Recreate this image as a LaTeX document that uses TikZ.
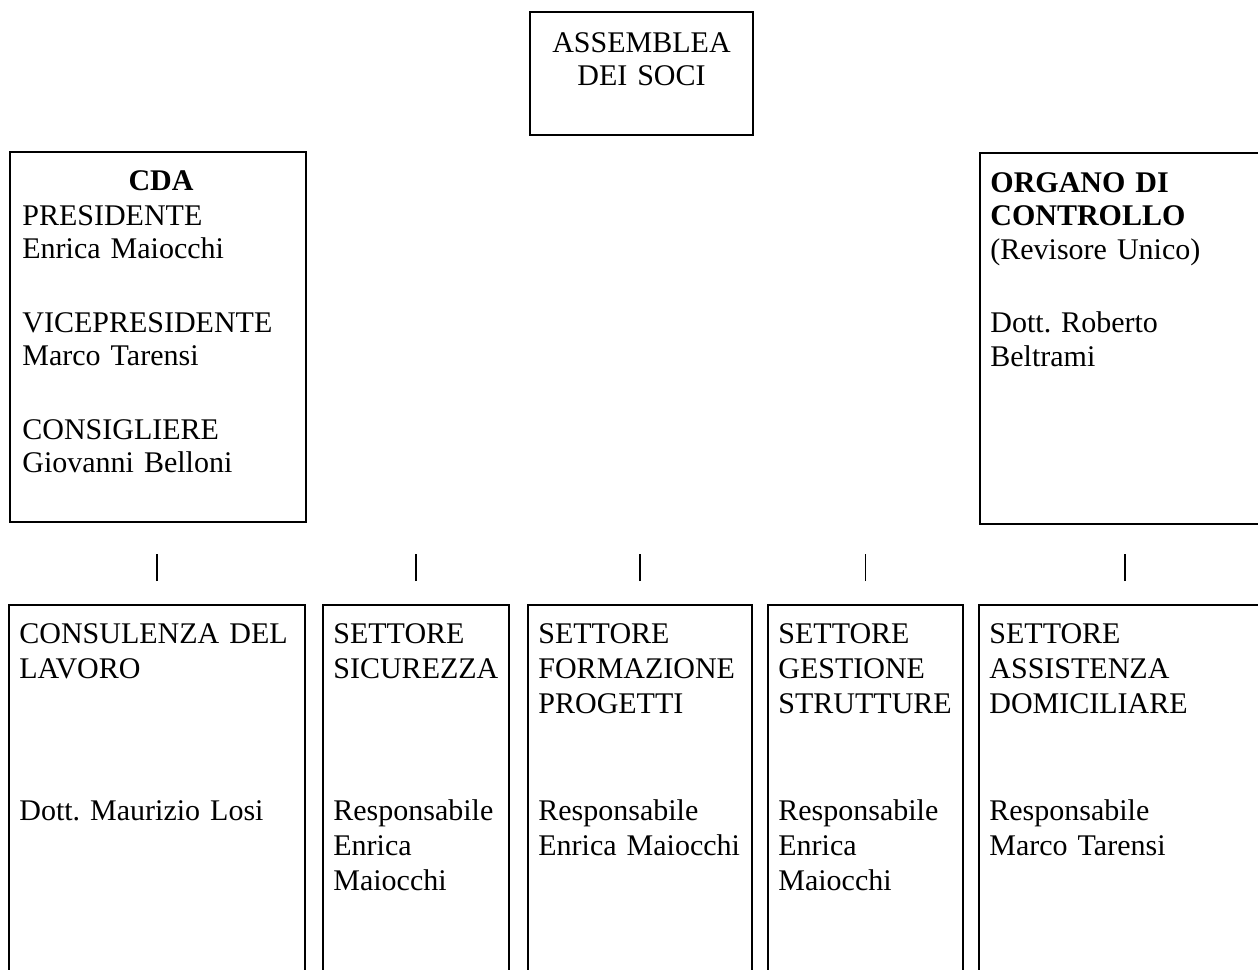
\documentclass[tikz,border=0pt]{standalone}
\usepackage{fontspec}
\setmainfont{Liberation Serif}
\frenchspacing
\tikzset{
  box/.style={draw, line width=1pt, inner sep=0pt},
  txt/.style={inner sep=0pt, anchor=base west, align=left, text width=#1},
  txt/.default=140pt,
  tick/.style={line width=0.6pt},
  every node/.style={font=\fontsize{15}{16.75}\selectfont},
}
\begin{document}
\begin{tikzpicture}[x=0.5pt, y=-0.5pt]
  \useasboundingbox (0,0) rectangle (1258,969);
  \clip (0,0) rectangle (1258,969);

  % Assemblea dei soci
  \node[box, minimum width=111.5pt, minimum height=61.5pt] (soci) at (641.5,73.5) {};
  \node[inner sep=0pt, anchor=base, align=center, text width=110pt] (socitxt) at (641.5,52) {ASSEMBLEA\\DEI SOCI};

  % CDA
  \node[box, minimum width=148pt, minimum height=185pt] (cda) at (158,337) {};
  \node[inner sep=0pt, anchor=base] (cdatit) at (161,190) {\textbf{CDA}};
  \node[txt=136pt] (cdatxt) at (22,225) {PRESIDENTE\\Enrica Maiocchi\\[20pt]VICEPRESIDENTE\\Marco Tarensi\\[20pt]CONSIGLIERE\\Giovanni Belloni};

  % Organo di controllo
  \node[box, minimum width=160pt, minimum height=185.5pt] (organo) at (1140,338.5) {};
  \node[txt=130pt] (organotxt) at (990,192) {\textbf{ORGANO DI}\\\textbf{CONTROLLO}\\(Revisore Unico)\\[20pt]Dott. Roberto\\Beltrami};

  % Settori
  \foreach \nm/\cx/\w/\head/\pers in {
      cons/157/148pt/{CONSULENZA DEL\\LAVORO}/{Dott. Maurizio Losi},
      sic/416/93pt/{SETTORE\\SICUREZZA}/{Responsabile\\Enrica\\Maiocchi},
      form/640/112pt/{SETTORE\\FORMAZIONE\\PROGETTI}/{Responsabile\\Enrica Maiocchi},
      gest/865.5/97.5pt/{SETTORE\\GESTIONE\\STRUTTURE}/{Responsabile\\Enrica\\Maiocchi},
      dom/1125/146pt/{SETTORE\\ASSISTENZA\\DOMICILIARE}/{Responsabile\\Marco Tarensi}} {
    \node[box, minimum width=\w, minimum height=200pt] (\nm) at (\cx,805) {};
    \node[txt=\w, font=\fontsize{15}{17.5}\selectfont] (\nm-hd) at ([xshift=5.5pt,yshift=-19.5pt]\nm.north west) {\head};
    \node[txt=\w, font=\fontsize{15}{17.5}\selectfont] (\nm-ps) at ([xshift=5.5pt,yshift=-108pt]\nm.north west) {\pers};
    \coordinate (\nm-tk) at ([yshift=11.5pt]\nm.north);
    \draw[tick] (\nm-tk) -- ++(0,-27); % small mark above the box
  }
\end{tikzpicture}
\end{document}
